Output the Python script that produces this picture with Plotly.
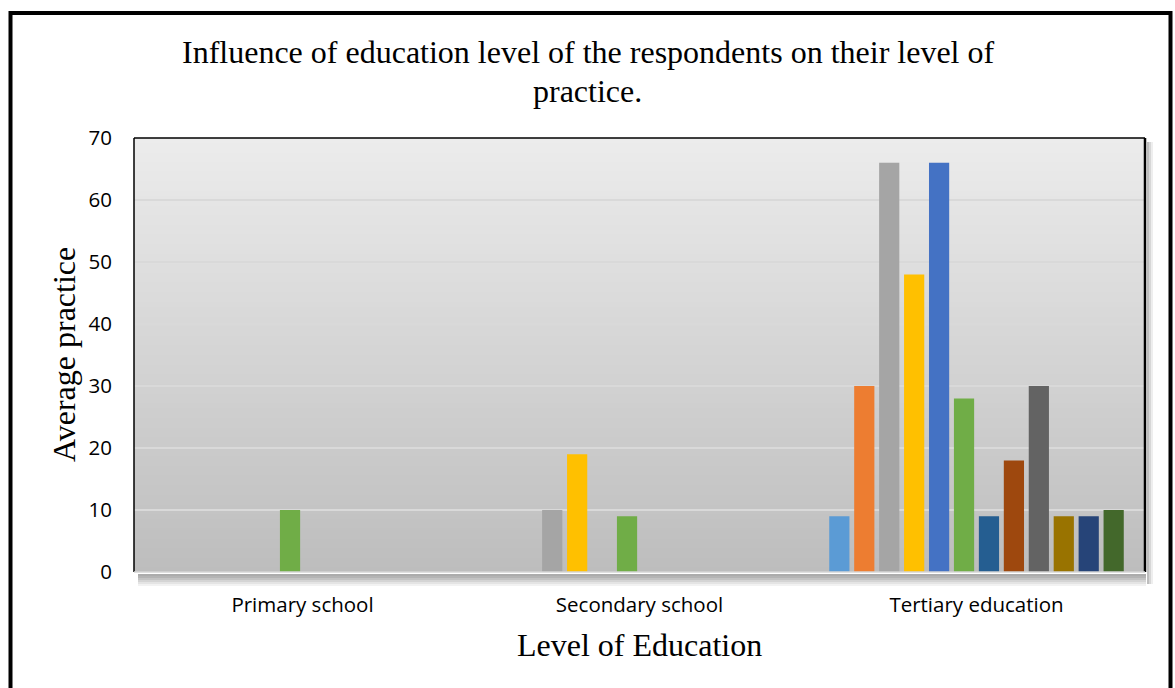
import plotly.graph_objects as go

# Education levels on the category axis
categories = ["Primary school", "Secondary school", "Tertiary education"]

# Average practice scores per item (12 items) for each education level
primary_values = [None, None, None, None, None, 10, None, None, None, None, None, None]
secondary_values = [None, None, 10, 19, None, 9, None, None, None, None, None, None]
tertiary_values = [9, 30, 66, 48, 66, 28, 9, 18, 30, 9, 9, 10]

item_names = [f"Item {i}" for i in range(1, 13)]
item_colors = ["#5B9BD5", "#ED7D31", "#A5A5A5", "#FFC000", "#4472C4", "#70AD47",
               "#255E91", "#9E480E", "#636363", "#997300", "#264478", "#43682B"]

y_ticks = [0, 10, 20, 30, 40, 50, 60, 70]

W, H = 1175, 688
L, R, T, B = 134, 30, 138, 116
PW, PH = W - L - R, H - T - B


def px_x(p):
    return (p - L) / PW


def px_y(p):
    return (H - B - p) / PH


fig = go.Figure()
for i, name in enumerate(item_names):
    fig.add_trace(go.Bar(
        x=categories,
        y=[primary_values[i], secondary_values[i], tertiary_values[i]],
        name=name,
        marker=dict(color=item_colors[i], line=dict(width=0)),
    ))

shapes = []
# vertical grey gradient behind the plot area; each band runs to the top so
# the next one fully covers the seam underneath
n_bands = 90
top_c, bot_c = 236, 189
for k in range(n_bands):
    f = (k + 0.5) / n_bands
    v = round(bot_c + (top_c - bot_c) * f)
    shapes.append(dict(type="rect", xref="paper", yref="paper",
                       x0=0, x1=1, y0=k / n_bands, y1=1,
                       fillcolor=f"rgb({v},{v},{v})", line=dict(width=0),
                       layer="below"))

# soft drop shadow under and to the right of the plot area
shadow_steps = [(0, 172), (2, 180), (4, 195), (6, 212), (8, 228), (10, 242)]
for off, v in shadow_steps:
    shapes.append(dict(type="rect", xref="paper", yref="paper",
                       x0=px_x(L + 4), x1=px_x(L + PW + 1),
                       y0=px_y(H - B + 2 + off), y1=px_y(H - B + 4 + off),
                       fillcolor=f"rgb({v},{v},{v})", line=dict(width=0),
                       layer="below"))
for off, v in [(0, 190), (2, 215), (4, 238)]:
    shapes.append(dict(type="rect", xref="paper", yref="paper",
                       x0=px_x(L + PW + 2 + off), x1=px_x(L + PW + 4 + off),
                       y0=px_y(H - B + 12), y1=px_y(T + 4),
                       fillcolor=f"rgb({v},{v},{v})", line=dict(width=0),
                       layer="below"))

# plot area frame
shapes.append(dict(type="line", xref="paper", yref="paper", x0=0, x1=1, y0=1, y1=1,
                   line=dict(color="black", width=1.5)))
shapes.append(dict(type="line", xref="paper", yref="paper", x0=0, x1=0, y0=0, y1=1,
                   line=dict(color="black", width=1.5)))
shapes.append(dict(type="line", xref="paper", yref="paper", x0=1, x1=1, y0=0, y1=1,
                   line=dict(color="black", width=2.5)))
shapes.append(dict(type="line", xref="paper", yref="paper", x0=0, x1=1, y0=0, y1=0,
                   line=dict(color="#d4d4d4", width=1.5)))

# outer page frame
shapes.append(dict(type="rect", xref="paper", yref="paper",
                   x0=px_x(10.5), x1=px_x(1170.5), y0=px_y(720), y1=px_y(13),
                   line=dict(color="black", width=4), fillcolor="rgba(0,0,0,0)"))

serif = "Liberation Serif, Times New Roman, serif"
sans = "Open Sans, Liberation Sans, sans-serif"

annotations = [
    dict(text="Influence of education level of the respondents on their level of",
         xref="paper", yref="paper", x=px_x(W / 2), y=px_y(52),
         xanchor="center", yanchor="middle", showarrow=False,
         font=dict(family=serif, size=32, color="black")),
    dict(text="practice.",
         xref="paper", yref="paper", x=px_x(W / 2), y=px_y(91),
         xanchor="center", yanchor="middle", showarrow=False,
         font=dict(family=serif, size=32, color="black")),
    dict(text="Average practice", xref="paper", yref="paper",
         x=px_x(64), y=0.5, xanchor="center", yanchor="middle",
         textangle=-90, showarrow=False,
         font=dict(family=serif, size=32, color="black")),
    dict(text="Level of Education", xref="paper", yref="paper",
         x=0.5, y=px_y(645), xanchor="center", yanchor="middle",
         showarrow=False, font=dict(family=serif, size=32, color="black")),
]

fig.update_layout(
    width=W, height=H,
    margin=dict(l=L, r=R, t=T, b=B, pad=0),
    paper_bgcolor="white",
    plot_bgcolor="rgba(0,0,0,0)",
    barmode="group",
    bargap=0.112,
    bargroupgap=0.19,
    showlegend=False,
    shapes=shapes,
    annotations=annotations,
    xaxis=dict(showgrid=False, zeroline=False, showline=False, ticks="",
               tickfont=dict(family=sans, size=20.5, color="black"),
               ticklabelstandoff=18),
    yaxis=dict(range=[0, 70], tickvals=y_ticks, showgrid=True,
               gridcolor="#d9d9d9", gridwidth=2, zeroline=False,
               showline=False, ticks="",
               tickfont=dict(family=sans, size=20.5, color="black"),
               ticklabelstandoff=21),
)

fig.write_html("out.html")
